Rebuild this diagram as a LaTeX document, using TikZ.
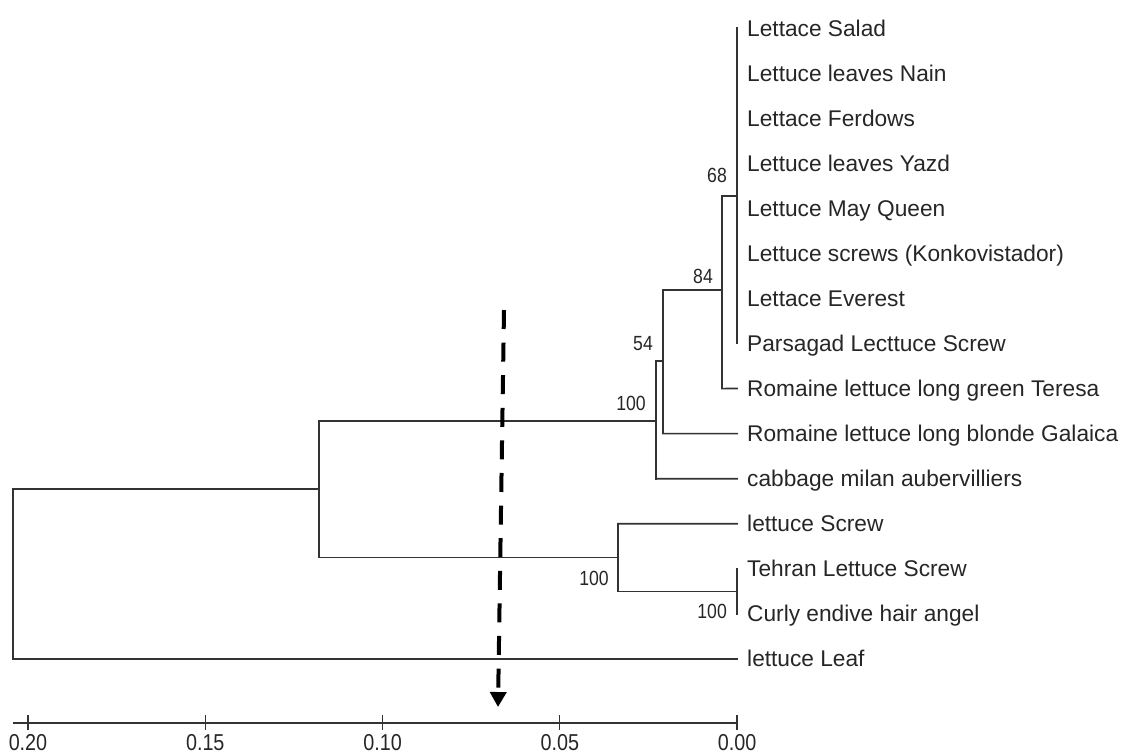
\documentclass[tikz,border=0pt]{standalone}
\usepackage{fontspec}
\setmainfont{Liberation Sans}
\newfontfamily\numfont[FakeStretch=0.86]{Liberation Sans}
\usetikzlibrary{arrows.meta}
\begin{document}
\begin{tikzpicture}[x=1pt,y=-1pt,
  branch/.style={line width=1.7pt,draw=black!80,line cap=rect},
  leaflabel/.style={anchor=base west,inner sep=0pt,font=\fontsize{22.7}{26}\selectfont,text=black!85},
  bootlabel/.style={anchor=base east,inner sep=0pt,font=\numfont\fontsize{20.5}{24}\selectfont,text=black!85},
  axislabel/.style={anchor=base,inner sep=0pt,font=\numfont\fontsize{23}{26}\selectfont,text=black!85},
  axisline/.style={line width=1.7pt,draw=black!80},
  tickline/.style={line width=1.4pt,draw=black!80},
  cutarrow/.style={line width=4pt,draw=black,dash pattern=on 19pt off 13.6pt,-{Triangle[width=16pt,length=15pt]}}]
\useasboundingbox (0,0) rectangle (1131,753);
% leaf tips
\foreach \i/\name in {0/Lettace Salad,1/Lettuce leaves Nain,2/Lettace Ferdows,3/Lettuce leaves Yazd,4/Lettuce May Queen,5/Lettuce screws (Konkovistador),6/Lettace Everest,7/Parsagad Lecttuce Screw,8/Romaine lettuce long green Teresa,9/Romaine lettuce long blonde Galaica,10/cabbage milan aubervilliers,11/lettuce Screw,12/Tehran Lettuce Screw,13/Curly endive hair angel,14/lettuce Leaf}{
  \coordinate (t\i) at (737,{28+45.07*\i});
  \node[leaflabel] (l\i) at (747,{36+45.07*\i}) {\name};
}
% internal nodes
\coordinate (n68) at (737,196);
\coordinate (n68top) at (737,28);
\coordinate (n68bot) at (737,343.5);
\coordinate (n84) at (722,290);
\coordinate (n84top) at (722,196);
\coordinate (n84bot) at (722,388.6);
\coordinate (n54) at (663,361);
\coordinate (n54top) at (663,290);
\coordinate (n54bot) at (663,433.6);
\coordinate (n100a) at (656,421);
\coordinate (n100atop) at (656,361);
\coordinate (n100abot) at (656,478.7);
\coordinate (ncurly) at (737,591.5);
\coordinate (nlow) at (618,557.6);
\coordinate (nlowtop) at (618,523.8);
\coordinate (nlowbot) at (618,591.5);
\coordinate (nmid) at (319,489);
\coordinate (nmidtop) at (319,421);
\coordinate (nmidbot) at (319,557.6);
\coordinate (root) at (13,574);
\coordinate (roottop) at (13,489);
\coordinate (rootbot) at (13,659);
% branches
\draw[branch] (n68top) -- (n68bot);
\draw[branch] (n84top) -- (n84bot);
\draw[branch] (n84top) -- (n68);
\draw[branch] (n84bot) -- (t8);
\draw[branch] (n54top) -- (n54bot);
\draw[branch] (n54top) -- (n84);
\draw[branch] (n54bot) -- (t9);
\draw[branch] (n100atop) -- (n100abot);
\draw[branch] (n100atop) -- (n54);
\draw[branch] (n100abot) -- (t10);
\draw[branch] (t12) -- (t13);
\draw[branch] (nlowtop) -- (nlowbot);
\draw[branch] (nlowtop) -- (t11);
\draw[branch] (nlowbot) -- (ncurly);
\draw[branch] (nmidtop) -- (nmidbot);
\draw[branch] (nmidtop) -- (n100a);
\draw[branch] (nmidbot) -- (nlow);
\draw[branch] (roottop) -- (rootbot);
\draw[branch] (roottop) -- (nmid);
\draw[branch] (rootbot) -- (t14);
% bootstrap values
\node[bootlabel] (b68) at (727,182) {68};
\node[bootlabel] (b84) at (713,283) {84};
\node[bootlabel] (b54) at (653,350) {54};
\node[bootlabel] (b100a) at (646,410) {100};
\node[bootlabel] (b100b) at (609,585) {100};
\node[bootlabel] (b100c) at (727,618) {100};
% axis
\coordinate (axl) at (13,723);
\coordinate (axr) at (737,723);
\draw[axisline] (axl) -- (axr);
\foreach \v/\x in {0.20/28,0.15/205.25,0.10/382.5,0.05/559.75,0.00/737}{
  \draw[tickline] (\x,715) -- (\x,730);
  \node[axislabel] at (\x,750) {\v};
}
% cut arrow
\coordinate (cuttop) at (504,310);
\coordinate (cuttip) at (498,707);
\draw[cutarrow] (cuttop) -- (cuttip);
\end{tikzpicture}
\end{document}
